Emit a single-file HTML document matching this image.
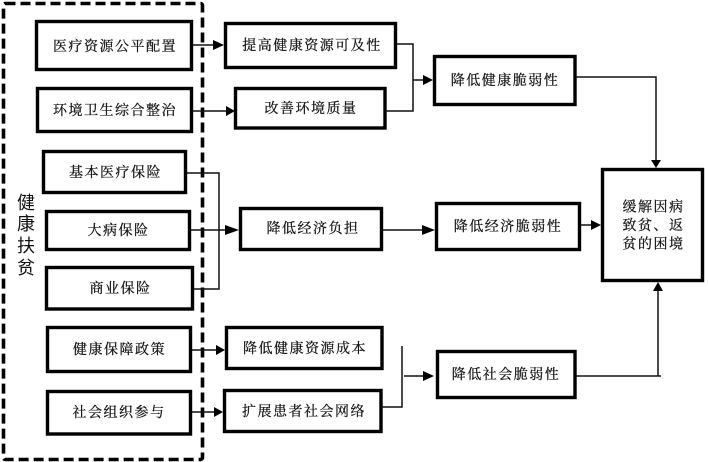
<!DOCTYPE html>
<html><head><meta charset="utf-8">
<style>
html,body{margin:0;padding:0;background:#fff}
svg{display:block}
.t{font-family:"Liberation Serif","Noto Serif CJK SC",serif;font-size:14px;letter-spacing:1.5px;fill:#111;stroke:#111;stroke-width:.25;text-anchor:middle;dominant-baseline:central}
.s{font-family:"Liberation Sans","Noto Sans CJK SC",sans-serif;font-size:18px;fill:#111;text-anchor:middle;dominant-baseline:central}
.b{fill:#fff;stroke:#000;stroke-width:3.4}
.l{fill:none;stroke:#111;stroke-width:1.5}
</style></head><body>
<svg width="708" height="462" viewBox="0 0 708 462" xmlns="http://www.w3.org/2000/svg">
<rect x="3.5" y="3.5" width="199" height="456" rx="2" fill="none" stroke="#000" stroke-width="3.6" stroke-dasharray="10 5"/>

<rect class="b" x="36.5" y="21.5" width="155" height="48"/>
<rect class="b" x="37.5" y="88.5" width="154" height="43"/>
<rect class="b" x="43.5" y="151.5" width="142" height="41"/>
<rect class="b" x="46.5" y="211.5" width="143" height="38"/>
<rect class="b" x="46.5" y="267.5" width="146" height="41.5"/>
<rect class="b" x="47.5" y="327.5" width="143" height="44"/>
<rect class="b" x="47.5" y="391.5" width="143" height="42.5"/>

<rect class="b" x="225.5" y="23.5" width="170" height="44"/>
<rect class="b" x="235.5" y="88.5" width="149.5" height="39.5"/>
<rect class="b" x="240.5" y="208.5" width="141" height="41"/>
<rect class="b" x="226.5" y="327.5" width="155.5" height="41"/>
<rect class="b" x="224.5" y="390.5" width="156.5" height="41"/>

<rect class="b" x="434.5" y="56.5" width="140.5" height="48"/>
<rect class="b" x="436.5" y="203.5" width="143" height="46"/>
<rect class="b" x="437.5" y="351.5" width="137.5" height="46"/>

<rect class="b" x="602.5" y="169.5" width="100" height="111"/>

<path class="l" d="M193 45H214"/><path d="M213 40L224 45L213 50Z" fill="#000"/>
<path class="l" d="M193 111H227"/><path d="M226 106L235 111L226 116Z" fill="#000"/>
<path class="l" d="M187 173H219V289H193"/>
<path class="l" d="M191 230H226"/><path d="M225 225L239 230L225 235Z" fill="#000"/>
<path class="l" d="M192 350H217"/><path d="M216 345L225 350L216 355Z" fill="#000"/>
<path class="l" d="M192 412H215"/><path d="M214 407L223 412L214 417Z" fill="#000"/>
<path class="l" d="M397 44H413V111H386"/>
<path class="l" d="M413 80H424"/><path d="M423 75L433 80L423 85Z" fill="#000"/>
<path class="l" d="M576 77H656V161"/><path d="M651 160L661 160L656 168Z" fill="#000"/>
<path class="l" d="M383 230H423"/><path d="M422 225L435 230L422 235Z" fill="#000"/>
<path class="l" d="M581 225H592"/><path d="M591 220L601 225L591 230Z" fill="#000"/>
<path class="l" d="M402 346V407H382"/>
<path class="l" d="M404 376H424"/><path d="M423 371L434 376L423 381Z" fill="#000"/>
<path class="l" d="M576 376H661"/><path class="l" d="M658 376V290"/><path d="M653 291L663 291L658 282Z" fill="#000"/>

<text class="t" x="115" y="47.5">医疗资源公平配置</text>
<text class="t" x="115" y="111.5">环境卫生综合整治</text>
<text class="t" x="115.5" y="173.5">基本医疗保险</text>
<text class="t" x="118.5" y="231.5">大病保险</text>
<text class="t" x="120.5" y="289.5">商业保险</text>
<text class="t" x="119.5" y="350.5">健康保障政策</text>
<text class="t" x="119" y="413.5">社会组织参与</text>

<text class="t" x="312" y="46.5">提高健康资源可及性</text>
<text class="t" x="311" y="109.5">改善环境质量</text>
<text class="t" x="313" y="229.5">降低经济负担</text>
<text class="t" x="305" y="349.5">降低健康资源成本</text>
<text class="t" x="304" y="412.5">扩展患者社会网络</text>

<text class="t" x="505" y="81.5">降低健康脆弱性</text>
<text class="t" x="508" y="227.5">降低经济脆弱性</text>
<text class="t" x="506" y="375.5">降低社会脆弱性</text>

<text class="t" x="653.5" y="208">缓解因病</text>
<text class="t" x="653.5" y="226.5">致贫、返</text>
<text class="t" x="653.5" y="245">贫的困境</text>

<text class="s" x="26" y="203">健</text>
<text class="s" x="26" y="224">康</text>
<text class="s" x="26" y="246">扶</text>
<text class="s" x="26" y="268">贫</text>
</svg>
</body></html>
